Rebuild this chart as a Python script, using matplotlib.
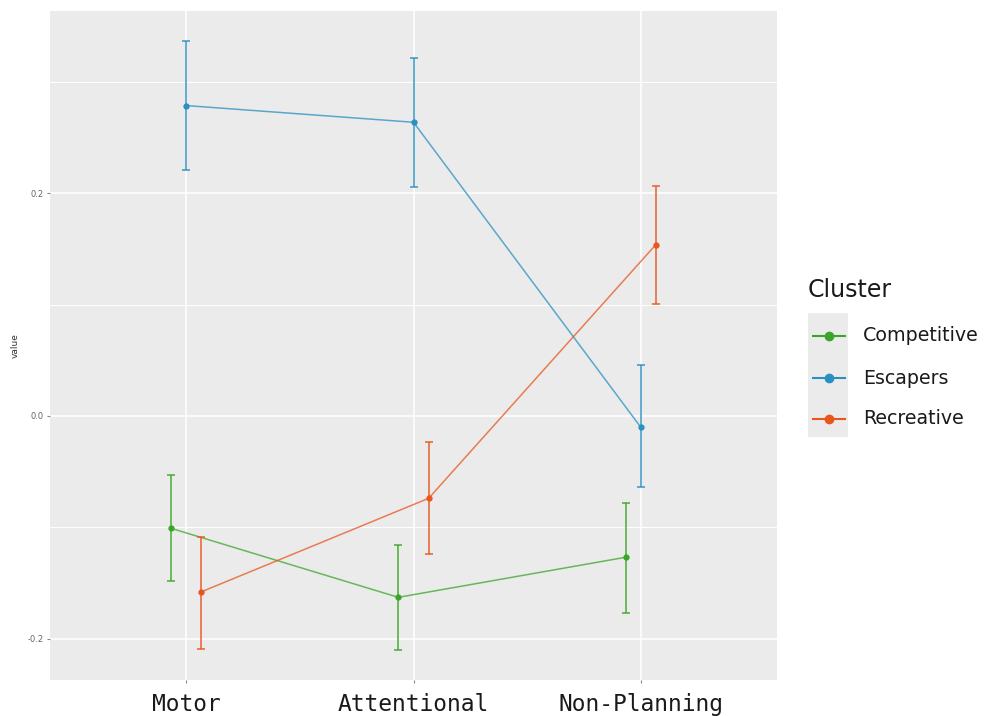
import matplotlib
matplotlib.use('Agg')
import matplotlib.pyplot as plt
from matplotlib.lines import Line2D
import numpy as np

# data
categories = ["Motor", "Attentional", "Non-Planning"]
clusters = ["Competitive", "Escapers", "Recreative"]
colors = {"Competitive": "#3aa629", "Escapers": "#2a8fc1", "Recreative": "#e8561e"}

competitive_mean = [-0.101, -0.163, -0.127]
competitive_low = [-0.148, -0.210, -0.177]
competitive_high = [-0.053, -0.116, -0.078]

escapers_mean = [0.279, 0.264, -0.010]
escapers_low = [0.221, 0.206, -0.064]
escapers_high = [0.337, 0.322, 0.046]

recreative_mean = [-0.158, -0.074, 0.154]
recreative_low = [-0.209, -0.124, 0.101]
recreative_high = [-0.109, -0.023, 0.207]

series = {
    "Competitive": (competitive_mean, competitive_low, competitive_high),
    "Escapers": (escapers_mean, escapers_low, escapers_high),
    "Recreative": (recreative_mean, recreative_low, recreative_high),
}

dodge = {"Competitive": -0.2 / 3, "Escapers": 0.0, "Recreative": 0.2 / 3}

W, H = 986, 716
fig = plt.figure(figsize=(W / 100, H / 100), dpi=100)
ax = fig.add_axes([50 / W, 1 - 680 / H, 727 / W, 669 / H])
ax.set_facecolor("#EBEBEB")
for sp in ax.spines.values():
    sp.set_visible(False)

x = np.arange(1, len(categories) + 1)
for name in clusters:
    mean, low, high = series[name]
    mean = np.array(mean)
    xs = x + dodge[name]
    yerr = [mean - np.array(low), np.array(high) - mean]
    ax.plot(xs, mean, color=colors[name], lw=1.1, alpha=0.75, zorder=3)
    ax.errorbar(xs, mean, yerr=yerr, fmt="none", ecolor=colors[name], elinewidth=1.2,
                capsize=3, capthick=1.2, alpha=0.85, zorder=3)
    ax.plot(xs, mean, "o", color=colors[name], ms=3.5, zorder=4)

ax.set_xlim(0.4, 3.6)
ax.set_ylim(-0.2373, 0.364)
ax.set_xticks(x)
ax.set_xticklabels(categories, fontfamily="DejaVu Sans Mono", fontsize=16.5, color="#1a1a1a")
ax.set_yticks([-0.2, 0.0, 0.2])
ax.set_yticklabels(["-0.2", "0.0", "0.2"], fontsize=6, color="#666666")
ax.set_yticks([-0.1, 0.1, 0.3], minor=True)
ax.tick_params(axis="both", which="major", length=2.5, width=0.8, color="#888888", pad=2)
ax.tick_params(axis="y", which="minor", length=0)
ax.tick_params(axis="x", pad=7)
ax.grid(True, which="major", color="white", lw=1.1, zorder=0)
ax.grid(True, which="minor", axis="y", color="white", lw=0.7, zorder=0)
ax.set_axisbelow(True)
ax.set_ylabel("value", fontsize=6.5, color="#333333", labelpad=6)

# legend drawn by hand to mimic ggplot's key boxes
fig.text(808 / W, 1 - 290 / H, "Cluster", fontsize=17, va="center", ha="left", color="#1a1a1a")
fig.patches.append(plt.Rectangle((808 / W, 1 - 437 / H), 40 / W, 124 / H,
                                 transform=fig.transFigure, facecolor="#EBEBEB",
                                 edgecolor="none", zorder=0))
rows = [336, 378, 419]
for name, ry in zip(clusters, rows):
    yy = 1 - ry / H
    fig.add_artist(Line2D([813 / W, 845 / W], [yy, yy], transform=fig.transFigure,
                          color=colors[name], lw=1.5))
    fig.add_artist(Line2D([829 / W], [yy], transform=fig.transFigure, marker="o",
                          color=colors[name], ms=6, lw=0))
    fig.text(863 / W, yy, name, fontsize=13.7, va="center", ha="left", color="#1a1a1a")

fig.savefig("out.png", dpi=100)
